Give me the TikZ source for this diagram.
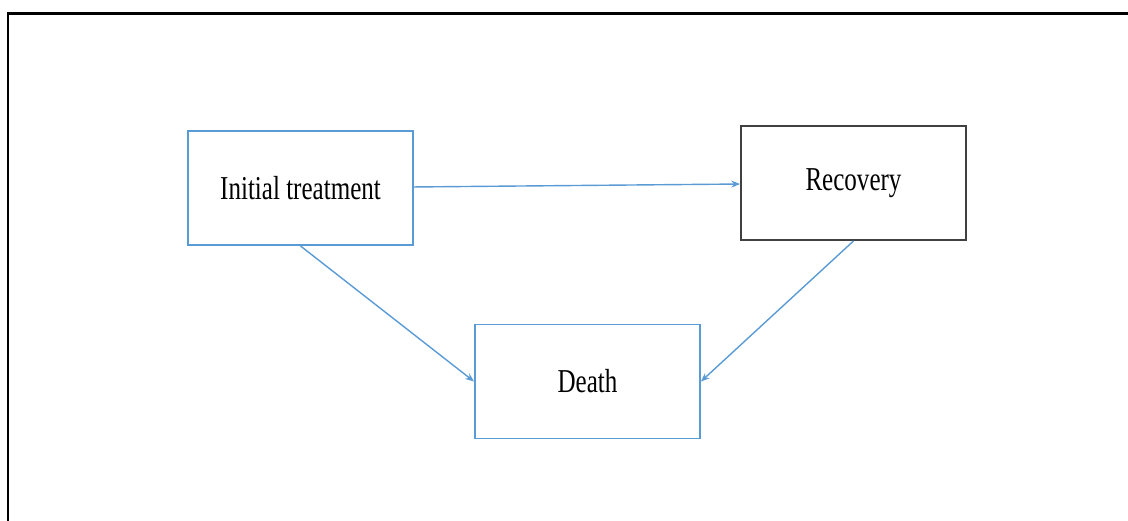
\documentclass[tikz,border=0pt]{standalone}
\usepackage{fontspec}
\setmainfont{Liberation Serif}
\usepackage{graphicx}
\usetikzlibrary{arrows.meta}
\definecolor{boxblue}{RGB}{91,155,213}
\definecolor{boxgray}{RGB}{64,64,64}
\newcommand{\boxtext}[1]{\scalebox{0.75}[1]{#1}}
\begin{document}
\begin{tikzpicture}[
        state/.style = {draw = boxblue, line width = 1.1pt, minimum width = 4.5cm, minimum height = 2.28cm, inner sep = 0pt, font = \fontsize{19}{23}\selectfont},
        flow/.style = {draw = boxblue, line width = 0.8pt, -{Stealth[length = 5pt, width = 4pt]}}
    ]
        \useasboundingbox (0, 0) rectangle (22.56, 10.42);
        \draw[line width = 1.6pt, black] (0.16, 0) |- (22.56, 10.15);
        \node[state] (init) at (6.01, 6.66) {\boxtext{Initial treatment}};
        \node[state, draw = boxgray] (recov) at (17.07, 6.76) {\boxtext{Recovery}};
        \node[state] (death) at (11.75, 2.79) {\boxtext{Death}};
        \draw[flow] (init) -- (recov);
        \draw[flow] (init.south) -- (death.west);
        \draw[flow] (recov.south) -- (death.east);
    \end{tikzpicture}
\end{document}
